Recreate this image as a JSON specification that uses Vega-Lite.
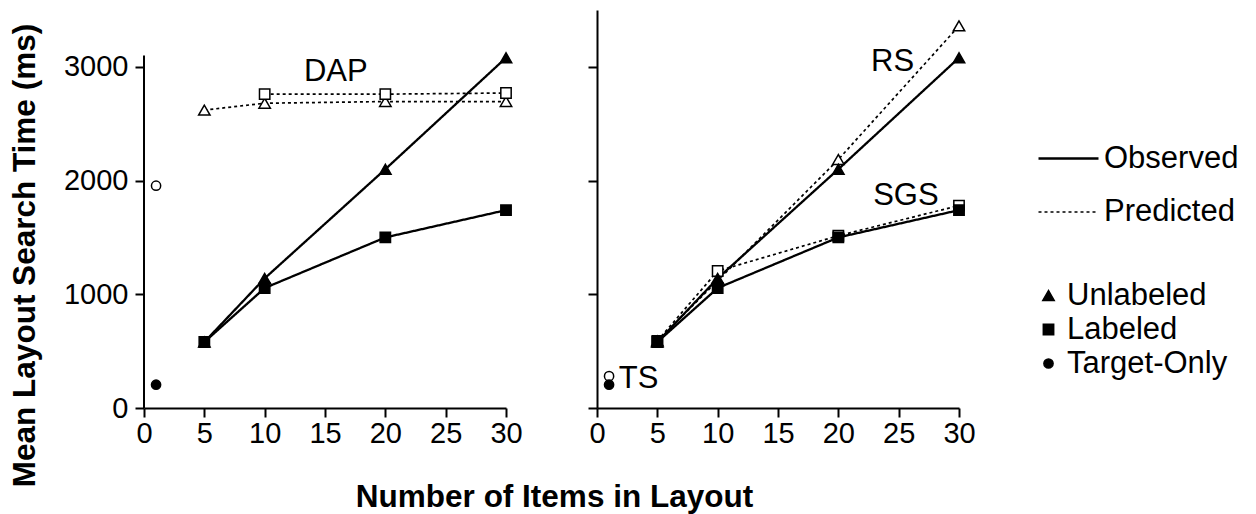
{
  "$schema": "https://vega.github.io/schema/vega-lite/v6.json",
  "background": "white",
  "padding": {"left": 8, "top": 10, "right": 5, "bottom": 5},
  "bounds": "flush",
  "spacing": 91,
  "config": {
    "view": {"stroke": null},
    "font": "Liberation Sans",
    "axis": {
      "grid": false,
      "domainColor": "black",
      "domainWidth": 2,
      "tickColor": "black",
      "tickWidth": 2,
      "tickSize": 9,
      "labelColor": "black",
      "labelFont": "Liberation Sans",
      "labelFontSize": 29,
      "labelFlush": false,
      "format": "d",
      "titleFont": "Liberation Sans",
      "titleFontSize": 31.5,
      "titleFontWeight": "bold",
      "titleColor": "black"
    },
    "legend": {
      "labelFont": "Liberation Sans",
      "labelColor": "black",
      "labelFontSize": 31,
      "labelLimit": 400,
      "padding": 0
    }
  },
  "datasets": {
    "pts": [
      {"panel": "L", "type": "Predicted", "cond": "Unlabeled", "x": 5, "y": 2620},
      {"panel": "L", "type": "Predicted", "cond": "Unlabeled", "x": 10, "y": 2680},
      {"panel": "L", "type": "Predicted", "cond": "Unlabeled", "x": 20, "y": 2695},
      {"panel": "L", "type": "Predicted", "cond": "Unlabeled", "x": 30, "y": 2695},
      {"panel": "L", "type": "Predicted", "cond": "Labeled", "x": 10, "y": 2760},
      {"panel": "L", "type": "Predicted", "cond": "Labeled", "x": 20, "y": 2760},
      {"panel": "L", "type": "Predicted", "cond": "Labeled", "x": 30, "y": 2770},
      {"panel": "L", "type": "Predicted", "cond": "Target-Only", "x": 1, "y": 1955},
      {"panel": "L", "type": "Observed", "cond": "Labeled", "x": 5, "y": 580},
      {"panel": "L", "type": "Observed", "cond": "Labeled", "x": 10, "y": 1055},
      {"panel": "L", "type": "Observed", "cond": "Labeled", "x": 20, "y": 1500},
      {"panel": "L", "type": "Observed", "cond": "Labeled", "x": 30, "y": 1740},
      {"panel": "L", "type": "Observed", "cond": "Unlabeled", "x": 5, "y": 580},
      {"panel": "L", "type": "Observed", "cond": "Unlabeled", "x": 10, "y": 1140},
      {"panel": "L", "type": "Observed", "cond": "Unlabeled", "x": 20, "y": 2100},
      {"panel": "L", "type": "Observed", "cond": "Unlabeled", "x": 30, "y": 3080},
      {"panel": "L", "type": "Observed", "cond": "Target-Only", "x": 1, "y": 205},
      {"panel": "R", "type": "Predicted", "cond": "Unlabeled", "x": 5, "y": 590},
      {"panel": "R", "type": "Predicted", "cond": "Unlabeled", "x": 10, "y": 1120},
      {"panel": "R", "type": "Predicted", "cond": "Unlabeled", "x": 20, "y": 2185},
      {"panel": "R", "type": "Predicted", "cond": "Unlabeled", "x": 30, "y": 3360},
      {"panel": "R", "type": "Predicted", "cond": "Labeled", "x": 5, "y": 590},
      {"panel": "R", "type": "Predicted", "cond": "Labeled", "x": 10, "y": 1205},
      {"panel": "R", "type": "Predicted", "cond": "Labeled", "x": 20, "y": 1515},
      {"panel": "R", "type": "Predicted", "cond": "Labeled", "x": 30, "y": 1780},
      {"panel": "R", "type": "Predicted", "cond": "Target-Only", "x": 1, "y": 280},
      {"panel": "R", "type": "Observed", "cond": "Labeled", "x": 5, "y": 580},
      {"panel": "R", "type": "Observed", "cond": "Labeled", "x": 10, "y": 1055},
      {"panel": "R", "type": "Observed", "cond": "Labeled", "x": 20, "y": 1500},
      {"panel": "R", "type": "Observed", "cond": "Labeled", "x": 30, "y": 1740},
      {"panel": "R", "type": "Observed", "cond": "Unlabeled", "x": 5, "y": 580},
      {"panel": "R", "type": "Observed", "cond": "Unlabeled", "x": 10, "y": 1140},
      {"panel": "R", "type": "Observed", "cond": "Unlabeled", "x": 20, "y": 2100},
      {"panel": "R", "type": "Observed", "cond": "Unlabeled", "x": 30, "y": 3080},
      {"panel": "R", "type": "Observed", "cond": "Target-Only", "x": 1, "y": 205}
    ],
    "labels": [
      {"panel": "L", "label": "DAP", "x": 15.9, "y": 2957},
      {"panel": "R", "label": "RS", "x": 24.5, "y": 3043},
      {"panel": "R", "label": "SGS", "x": 25.6, "y": 1860},
      {"panel": "R", "label": "TS", "x": 3.44, "y": 254}
    ]
  },
  "hconcat": [
    {
      "width": 362,
      "height": 398,
      "layer": [
        {
          "data": {"name": "pts"},
          "transform": [{"filter": "datum.panel == 'L'"}],
          "mark": {"type": "line", "color": "black"},
          "encoding": {
            "x": {"field": "x", "type": "quantitative", "scale": {"domain": [0, 30]},
              "axis": {"values": [0, 5, 10, 15, 20, 25, 30], "labelPadding": 2, "title": "Number of Items in Layout", "titleX": 410, "titleY": 89, "titleBaseline": "middle", "titleAlign": "center"}},
            "y": {"field": "y", "type": "quantitative", "scale": {"domain": [0, 3400]},
              "axis": {"values": [0, 1000, 2000, 3000], "domain": false, "labelPadding": 7, "title": "Mean Layout Search Time (ms)", "titleX": -119, "titleY": 245, "titleBaseline": "middle", "titleAlign": "center", "titleAngle": 270}},
            "detail": {"field": "cond"},
            "strokeDash": {"field": "type", "type": "nominal",
              "scale": {"domain": ["Observed", "Predicted"], "range": [[1, 0], [3, 3]]},
              "legend": {"title": null, "orient": "none", "legendX": 893, "legendY": 117, "symbolType": "stroke", "symbolSize": 3600, "symbolStrokeColor": "black", "symbolStrokeWidth": 2, "labelOffset": 4, "rowPadding": 7}},
            "strokeWidth": {"field": "type", "type": "nominal", "scale": {"domain": ["Observed", "Predicted"], "range": [2.3, 1.7]}, "legend": null}
          }
        },
        {
          "data": {"values": [{}]},
          "mark": {"type": "rule", "color": "black", "strokeWidth": 2},
          "encoding": {
            "x": {"datum": 0, "type": "quantitative"},
            "y": {"datum": 0, "type": "quantitative"},
            "y2": {"datum": 3100}
          }
        },
        {
          "data": {"name": "pts"},
          "transform": [{"filter": "datum.panel == 'L'"}],
          "mark": {"type": "point", "filled": true, "stroke": "black", "strokeWidth": 1.5, "opacity": 1},
          "encoding": {
            "x": {"field": "x", "type": "quantitative"},
            "y": {"field": "y", "type": "quantitative"},
            "shape": {"field": "cond", "type": "nominal",
              "scale": {"domain": ["Unlabeled", "Labeled", "Target-Only"], "range": ["triangle-up", "square", "circle"]},
              "legend": {"title": null, "orient": "none", "legendX": 889, "legendY": 270, "symbolFillColor": "black", "symbolStrokeColor": "black", "labelOffset": 3, "rowPadding": 2}},
            "size": {"field": "cond", "type": "nominal", "scale": {"domain": ["Unlabeled", "Labeled", "Target-Only"], "range": [130, 85, 55]},
              "legend": {"title": null, "orient": "none", "legendX": 889, "legendY": 270, "symbolFillColor": "black", "symbolStrokeColor": "black", "labelOffset": 3, "rowPadding": 2}},
            "fill": {"field": "type", "type": "nominal", "scale": {"domain": ["Observed", "Predicted"], "range": ["black", "white"]}, "legend": null}
          }
        },
        {
          "data": {"name": "labels"},
          "transform": [{"filter": "datum.panel == 'L'"}],
          "mark": {"type": "text", "fontSize": 31, "font": "Liberation Sans", "color": "black", "align": "center", "baseline": "middle"},
          "encoding": {
            "x": {"field": "x", "type": "quantitative"},
            "y": {"field": "y", "type": "quantitative"},
            "text": {"field": "label"}
          }
        }
      ]
    },
    {
      "width": 362,
      "height": 398,
      "layer": [
        {
          "data": {"name": "pts"},
          "transform": [{"filter": "datum.panel == 'R'"}],
          "mark": {"type": "line", "color": "black"},
          "encoding": {
            "x": {"field": "x", "type": "quantitative", "scale": {"domain": [0, 30]},
              "axis": {"values": [0, 5, 10, 15, 20, 25, 30], "labelPadding": 2, "title": null}},
            "y": {"field": "y", "type": "quantitative", "scale": {"domain": [0, 3400]},
              "axis": {"values": [0, 1000, 2000, 3000], "labels": false, "title": null}},
            "detail": {"field": "cond"},
            "strokeDash": {"field": "type", "type": "nominal",
              "scale": {"domain": ["Observed", "Predicted"], "range": [[1, 0], [3, 3]]},
              "legend": {"title": null, "orient": "none", "legendX": 893, "legendY": 117, "symbolType": "stroke", "symbolSize": 3600, "symbolStrokeColor": "black", "symbolStrokeWidth": 2, "labelOffset": 4, "rowPadding": 7}},
            "strokeWidth": {"field": "type", "type": "nominal", "scale": {"domain": ["Observed", "Predicted"], "range": [2.3, 1.7]}, "legend": null}
          }
        },
        {
          "data": {"name": "pts"},
          "transform": [{"filter": "datum.panel == 'R'"}],
          "mark": {"type": "point", "filled": true, "stroke": "black", "strokeWidth": 1.5, "opacity": 1},
          "encoding": {
            "x": {"field": "x", "type": "quantitative"},
            "y": {"field": "y", "type": "quantitative"},
            "shape": {"field": "cond", "type": "nominal",
              "scale": {"domain": ["Unlabeled", "Labeled", "Target-Only"], "range": ["triangle-up", "square", "circle"]},
              "legend": {"title": null, "orient": "none", "legendX": 889, "legendY": 270, "symbolFillColor": "black", "symbolStrokeColor": "black", "labelOffset": 3, "rowPadding": 2}},
            "size": {"field": "cond", "type": "nominal", "scale": {"domain": ["Unlabeled", "Labeled", "Target-Only"], "range": [130, 85, 55]},
              "legend": {"title": null, "orient": "none", "legendX": 889, "legendY": 270, "symbolFillColor": "black", "symbolStrokeColor": "black", "labelOffset": 3, "rowPadding": 2}},
            "fill": {"field": "type", "type": "nominal", "scale": {"domain": ["Observed", "Predicted"], "range": ["black", "white"]}, "legend": null}
          }
        },
        {
          "data": {"name": "labels"},
          "transform": [{"filter": "datum.panel == 'R'"}],
          "mark": {"type": "text", "fontSize": 31, "font": "Liberation Sans", "color": "black", "align": "center", "baseline": "middle"},
          "encoding": {
            "x": {"field": "x", "type": "quantitative"},
            "y": {"field": "y", "type": "quantitative"},
            "text": {"field": "label"}
          }
        }
      ]
    }
  ]
}
